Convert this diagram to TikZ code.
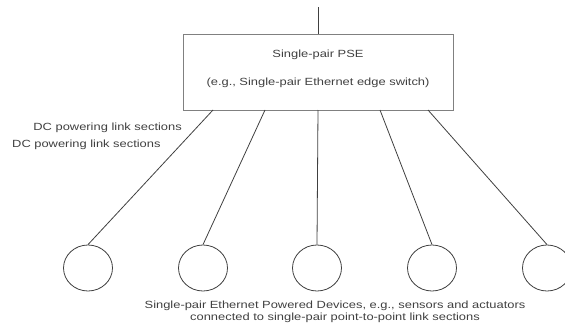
\documentclass[tikz,border=0pt]{standalone}
\usepackage{fontspec}
\usepackage{graphicx}
\setmainfont{Liberation Sans}
\usetikzlibrary{shapes.geometric}
\newcommand{\wx}[1]{\scalebox{1.24}[1]{#1}}
\begin{document}
\begin{tikzpicture}[x=1pt,y=-1pt,
  ln/.style={draw=black!75, line width=0.8pt},
  pd/.style={ellipse, draw=black!75, line width=0.8pt, minimum width=49pt, minimum height=46pt, inner sep=0pt},
  txt/.style={font=\fontsize{10.4}{11}\selectfont, text=black!75, inner sep=0pt}]
\useasboundingbox (0,0) rectangle (565,332);
\node[draw=black!50, line width=0.7pt, minimum width=270pt, minimum height=76pt, inner sep=0pt] (pse) at (318,72) {};
\node[txt] (t1) at (318,55) {\wx{Single-pair PSE}};
\node[txt] (t2) at (318,83) {\wx{(e.g., Single-pair Ethernet edge switch)}};
\coordinate (up) at (318,7);
\draw[ln] (pse.north) -- (up);
\foreach \i/\x/\bx in {1/88/213, 2/203/265, 3/317/318, 4/432/380, 5/547/428} {
  \node[pd] (c\i) at (\x,268) {};
  \coordinate (b\i) at (\bx,110);
  \draw[ln] (b\i) -- (c\i.north);
}
\node[txt, anchor=east] (l1) at (182,128) {\wx{DC powering link sections}};
\node[txt, anchor=west] (l2) at (12,145) {\wx{DC powering link sections}};
\node[txt] (bt) at (335,312.5) {\wx{\begin{tabular}{@{}c@{}}Single-pair Ethernet Powered Devices, e.g., sensors and actuators\\[1.5pt]connected to single-pair point-to-point link sections\end{tabular}}};
\end{tikzpicture}
\end{document}
